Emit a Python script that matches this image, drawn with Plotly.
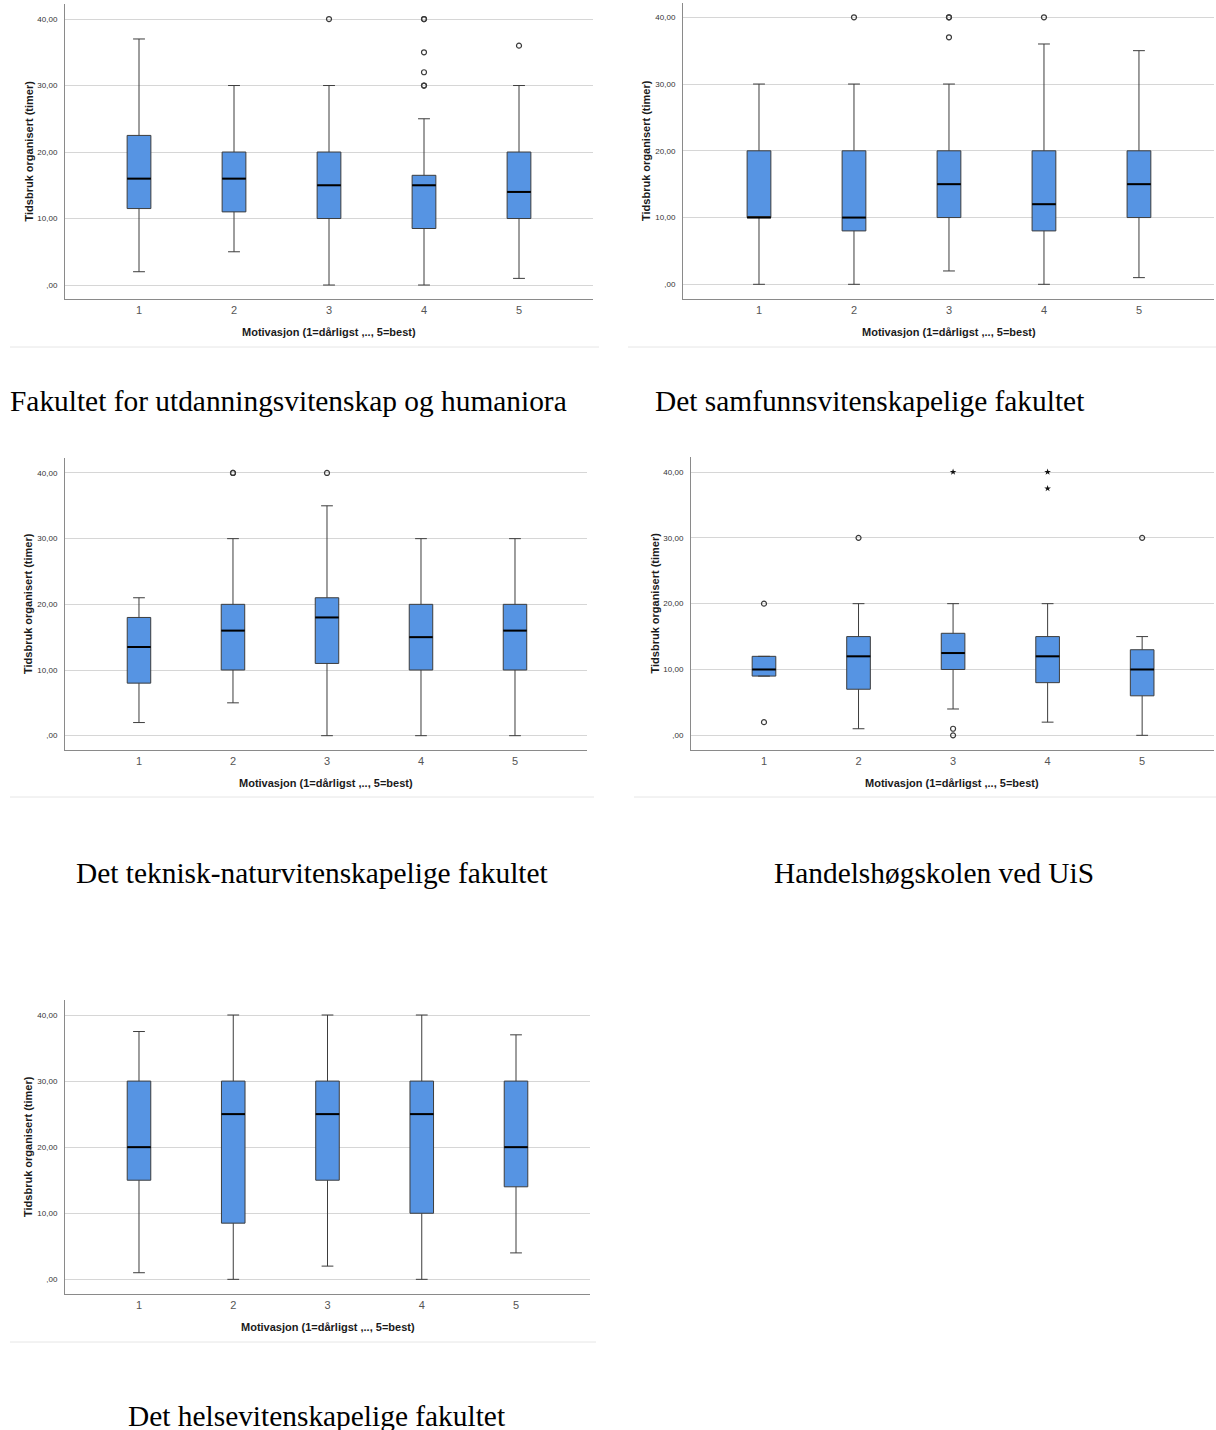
import plotly.graph_objects as go

# Motivation levels on the x axis
CATEGORIES = [1, 2, 3, 4, 5]
CATEGORY_LABELS = ["1", "2", "3", "4", "5"]

# Y ticks (hours), Norwegian decimal style
Y_TICKS = [0, 10, 20, 30, 40]
Y_TICK_LABELS = [",00", "10,00", "20,00", "30,00", "40,00"]

Y_TITLE = "Tidsbruk organisert (timer)"
X_TITLE = "Motivasjon (1=dårligst ,.., 5=best)"

# Fakultet for utdanningsvitenskap og humaniora
UH_LOW = [2, 5, 0, 0, 1]
UH_Q1 = [11.5, 11, 10, 8.5, 10]
UH_MED = [16, 16, 15, 15, 14]
UH_Q3 = [22.5, 20, 20, 16.5, 20]
UH_HIGH = [37, 30, 30, 25, 30]
UH_OUT_X = [3, 4, 4, 4, 4, 4, 4, 5]
UH_OUT_Y = [40, 40, 40, 35, 32, 30, 30, 36]

# Det samfunnsvitenskapelige fakultet
SV_LOW = [0, 0, 2, 0, 1]
SV_Q1 = [10, 8, 10, 8, 10]
SV_MED = [10, 10, 15, 12, 15]
SV_Q3 = [20, 20, 20, 20, 20]
SV_HIGH = [30, 30, 30, 36, 35]
SV_OUT_X = [2, 3, 3, 3, 4]
SV_OUT_Y = [40, 40, 40, 37, 40]

# Det teknisk-naturvitenskapelige fakultet
TN_LOW = [2, 5, 0, 0, 0]
TN_Q1 = [8, 10, 11, 10, 10]
TN_MED = [13.5, 16, 18, 15, 16]
TN_Q3 = [18, 20, 21, 20, 20]
TN_HIGH = [21, 30, 35, 30, 30]
TN_OUT_X = [2, 2, 3]
TN_OUT_Y = [40, 40, 40]

# Handelshøgskolen ved UiS
HHS_LOW = [9, 1, 4, 2, 0]
HHS_Q1 = [9, 7, 10, 8, 6]
HHS_MED = [10, 12, 12.5, 12, 10]
HHS_Q3 = [12, 15, 15.5, 15, 13]
HHS_HIGH = [12, 20, 20, 20, 15]
HHS_OUT_X = [1, 1, 2, 3, 3, 5]
HHS_OUT_Y = [20, 2, 30, 1, 0, 30]
HHS_EXT_X = [3, 4, 4]
HHS_EXT_Y = [40, 40, 37.5]

# Det helsevitenskapelige fakultet
HV_LOW = [1, 0, 2, 0, 4]
HV_Q1 = [15, 8.5, 15, 10, 14]
HV_MED = [20, 25, 25, 25, 20]
HV_Q3 = [30, 30, 30, 30, 30]
HV_HIGH = [37.5, 40, 40, 40, 37]
HV_OUT_X = []
HV_OUT_Y = []

CAPTIONS = [
    "Fakultet for utdanningsvitenskap og humaniora",
    "Det samfunnsvitenskapelige fakultet",
    "Det teknisk-naturvitenskapelige fakultet",
    "Handelshøgskolen ved UiS",
    "Det helsevitenskapelige fakultet",
]

W, H = 1216, 1430
BOX_W = 0.25
BOX_FILL = "#5694E3"
BOX_LINE = "#3d3d3d"
GRID = "#d6d6d6"
AXIS_LINE = "#8a8a8a"
SANS = "Liberation Sans"
SERIF = "Liberation Serif"


def fx(px):
    return px / W


def fy(px):
    return 1 - px / H


panels = [
    dict(low=UH_LOW, q1=UH_Q1, med=UH_MED, q3=UH_Q3, high=UH_HIGH,
         ox=UH_OUT_X, oy=UH_OUT_Y, ex=[], ey=[],
         box=(65, 593, 4, 299), xr=(0.221, 5.779), yr=(-2.1, 42.26),
         cap=(288, 401), sep=(10, 599, 347)),
    dict(low=SV_LOW, q1=SV_Q1, med=SV_MED, q3=SV_Q3, high=SV_HIGH,
         ox=SV_OUT_X, oy=SV_OUT_Y, ex=[], ey=[],
         box=(683, 1214, 3, 299), xr=(0.2, 5.79), yr=(-2.2, 42.14),
         cap=(869, 401), sep=(628, 1216, 347)),
    dict(low=TN_LOW, q1=TN_Q1, med=TN_MED, q3=TN_Q3, high=TN_HIGH,
         ox=TN_OUT_X, oy=TN_OUT_Y, ex=[], ey=[],
         box=(65, 587, 458, 750), xr=(0.213, 5.766), yr=(-2.18, 42.28),
         cap=(312, 873), sep=(10, 594, 797)),
    dict(low=HHS_LOW, q1=HHS_Q1, med=HHS_MED, q3=HHS_Q3, high=HHS_HIGH,
         ox=HHS_OUT_X, oy=HHS_OUT_Y, ex=HHS_EXT_X, ey=HHS_EXT_Y,
         box=(691, 1214, 457, 750), xr=(0.228, 5.76), yr=(-2.23, 42.28),
         cap=(934, 873), sep=(634, 1216, 797)),
    dict(low=HV_LOW, q1=HV_Q1, med=HV_MED, q3=HV_Q3, high=HV_HIGH,
         ox=HV_OUT_X, oy=HV_OUT_Y, ex=[], ey=[],
         box=(65, 590, 1000, 1294), xr=(0.215, 5.785), yr=(-2.22, 42.27),
         cap=(316, 1416), sep=(10, 596, 1342)),
]

fig = go.Figure()
annotations = []
shapes = []
layout_axes = {}

for i, (p, caption) in enumerate(zip(panels, CAPTIONS)):
    n = "" if i == 0 else str(i + 1)
    xa, ya = "x" + n, "y" + n
    left, right, top, bottom = p["box"]

    fig.add_trace(go.Box(
        x=CATEGORIES, q1=p["q1"], median=p["med"], q3=p["q3"],
        lowerfence=p["low"], upperfence=p["high"],
        width=BOX_W, whiskerwidth=0.5,
        fillcolor=BOX_FILL, line=dict(color=BOX_LINE, width=1),
        xaxis=xa, yaxis=ya, showlegend=False, hoverinfo="skip",
    ))

    # heavier median bars drawn over each box
    mx, my = [], []
    for c, m in zip(CATEGORIES, p["med"]):
        mx += [c - BOX_W / 2, c + BOX_W / 2, None]
        my += [m, m, None]
    fig.add_trace(go.Scatter(
        x=mx, y=my, mode="lines", line=dict(color="#000000", width=2),
        xaxis=xa, yaxis=ya, showlegend=False, hoverinfo="skip",
    ))

    if p["ox"]:
        fig.add_trace(go.Scatter(
            x=p["ox"], y=p["oy"], mode="markers",
            marker=dict(symbol="circle-open", size=5, color="#3a3a3a",
                        line=dict(width=1.2, color="#3a3a3a")),
            xaxis=xa, yaxis=ya, showlegend=False, hoverinfo="skip",
        ))
    if p["ex"]:
        fig.add_trace(go.Scatter(
            x=p["ex"], y=p["ey"], mode="markers",
            marker=dict(symbol="star", size=5, color="#111111"),
            xaxis=xa, yaxis=ya, showlegend=False, hoverinfo="skip",
        ))

    layout_axes["xaxis" + n] = dict(
        domain=[fx(left), fx(right)], range=list(p["xr"]), anchor=ya,
        tickvals=CATEGORIES, ticktext=CATEGORY_LABELS, ticks="",
        showgrid=False, zeroline=False, showline=True,
        linecolor=AXIS_LINE, linewidth=1, ticklabelstandoff=1,
        tickfont=dict(family=SANS, size=11, color="#555555"),
        fixedrange=True,
    )
    layout_axes["yaxis" + n] = dict(
        domain=[fy(bottom), fy(top)], range=list(p["yr"]), anchor=xa,
        tickvals=Y_TICKS, ticktext=Y_TICK_LABELS, ticks="",
        showgrid=True, gridcolor=GRID, gridwidth=1, zeroline=False,
        showline=True, linecolor=AXIS_LINE, linewidth=1,
        ticklabelstandoff=5,
        tickfont=dict(family=SANS, size=8, color="#333333"),
        fixedrange=True,
    )

    # axis titles
    annotations.append(dict(
        text=f"<b>{Y_TITLE}</b>", textangle=-90, showarrow=False,
        xref="paper", yref="paper", x=fx(left - 37), y=fy((top + bottom) / 2),
        xanchor="center", yanchor="middle",
        font=dict(family=SANS, size=11, color="#1a1a1a"),
    ))
    annotations.append(dict(
        text=f"<b>{X_TITLE}</b>", showarrow=False,
        xref="paper", yref="paper", x=fx((left + right) / 2), y=fy(bottom + 33),
        xanchor="center", yanchor="middle",
        font=dict(family=SANS, size=11, color="#1a1a1a"),
    ))
    # faculty caption
    cx, cy = p["cap"]
    annotations.append(dict(
        text=caption, showarrow=False, xref="paper", yref="paper",
        x=fx(cx), y=fy(cy), xanchor="center", yanchor="middle",
        font=dict(family=SERIF, size=29.4, color="#000000"),
    ))
    # thin frame line under each chart
    sx0, sx1, sy = p["sep"]
    shapes.append(dict(
        type="line", xref="paper", yref="paper",
        x0=fx(sx0), x1=fx(sx1), y0=fy(sy), y1=fy(sy),
        line=dict(color="#e6e6e6", width=1),
    ))

fig.update_layout(
    width=W, height=H,
    margin=dict(l=0, r=0, t=0, b=0),
    paper_bgcolor="#ffffff", plot_bgcolor="#ffffff",
    font=dict(family=SANS),
    annotations=annotations, shapes=shapes,
    **layout_axes,
)

fig.write_html("out.html", config={"displayModeBar": False})
